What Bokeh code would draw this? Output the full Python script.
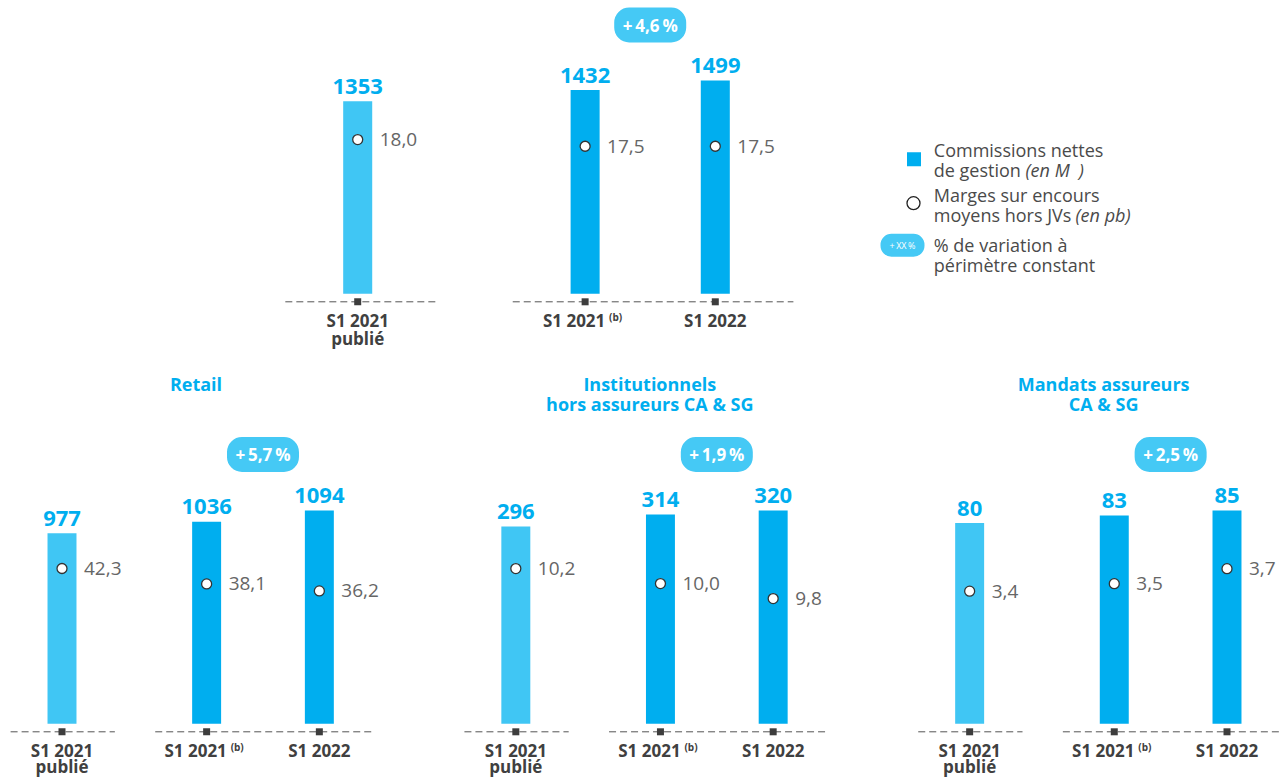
from bokeh.plotting import figure
from bokeh.models import FactorRange, Range1d, ColumnDataSource, Spacer
from bokeh.layouts import row, column
from bokeh.core.properties import value
from bokeh.embed import file_html
from bokeh.resources import INLINE

# ---------------- data ----------------
periods = ["S1 2021 publié", "S1 2021 (b)", "S1 2022"]
period_groups = ["publié", "périmètre constant", "périmètre constant"]
period_line1 = ["S1 2021", "S1 2021", "S1 2022"]
period_line2 = ["publié", "", ""]
period_note = ["", "(b)", ""]

total_commissions = [1353, 1432, 1499]
total_margins = [18.0, 17.5, 17.5]
total_growth = "+\u20094,6\u2009%"

segment_keys = ["Retail", "Institutionnels", "Mandats"]
segment_title1 = ["Retail", "Institutionnels", "Mandats assureurs"]
segment_title2 = ["", "hors assureurs CA & SG", "CA & SG"]

retail_commissions = [977, 1036, 1094]
retail_margins = [42.3, 38.1, 36.2]
inst_commissions = [296, 314, 320]
inst_margins = [10.2, 10.0, 9.8]
mandats_commissions = [80, 83, 85]
mandats_margins = [3.4, 3.5, 3.7]
segment_growth = ["+\u20095,7\u2009%", "+\u20091,9\u2009%", "+\u20092,5\u2009%"]

# ---------------- style ----------------
FONT = value("Open Sans")
BLUE = "#00AEEF"
LIGHT = "#40C6F4"
BADGE = "#45C9F5"
CAT_TXT = "#404040"
MARGIN_TXT = "#666666"
LEG_TXT = "#4A4A4A"
LINE = "#555555"
MAX_BAR_PX = 213.3


def fmt(v):
    return f"{v:.1f}".replace(".", ",")


def scale(zero_value, px_per_unit, base_px, height):
    return Range1d(zero_value - (height - base_px) / px_per_unit,
                   zero_value + base_px / px_per_unit)


def base_fig(w, h, x_range, y_range):
    p = figure(width=w, height=h, x_range=x_range, y_range=y_range,
               toolbar_location=None, output_backend="svg",
               x_axis_location=None, y_axis_location=None,
               min_border=0, outline_line_color=None,
               background_fill_color="white", border_fill_color="white")
    p.grid.visible = False
    return p


def draw_panel(p, factors, commissions, margins, growth, bars_name, marg_name,
               base_px, badge_px, dash_l, dash_r, bar_w, line2_gap=44.5):
    colors = [LIGHT if g == "publié" else BLUE for g in period_groups]
    src = ColumnDataSource(dict(
        x=factors, top=commissions, m=margins, color=colors,
        lab=[str(v) for v in commissions], mlab=[fmt(v) for v in margins],
        l1=period_line1, l2=period_line2, note=period_note,
        l1off=[-11 if n else 0 for n in period_note],
        y1=[base_px + 27] * 3, y2=[base_px + line2_gap] * 3, yn=[base_px + 23.5] * 3,
        ytick=[base_px + 8] * 3,
    ))
    # dashed baseline per group
    groups = []
    for g in period_groups:
        if g not in groups:
            groups.append(g)
    x0, x1 = [], []
    for g in groups:
        fs = [f for f, gg in zip(factors, period_groups) if gg == g]
        x0.append(tuple(fs[0]) + (dash_l,))
        x1.append(tuple(fs[-1]) + (dash_r,))
    p.segment(x0=x0, x1=x1, y0=[base_px + 8] * len(groups), y1=[base_px + 8] * len(groups),
              line_color=LINE, line_width=1, line_dash="7 4")
    p.scatter(x="x", y="ytick", source=src, marker="square", size=7,
              fill_color="#3D3D3D", line_color=None)
    p.vbar(x="x", top="top", bottom=0, width=bar_w, source=src, fill_color="color",
           line_color=None, y_range_name=bars_name)
    p.text(x="x", y="top", text="lab", source=src, y_range_name=bars_name, y_offset=-15,
           text_align="center", text_baseline="middle", text_font=FONT,
           text_font_style="bold", text_font_size="22px", text_color=BLUE)
    p.scatter(x="x", y="m", source=src, y_range_name=marg_name, marker="circle", size=10,
              fill_color="white", line_color="#333333", line_width=1.3)
    p.text(x="x", y="m", text="mlab", source=src, y_range_name=marg_name, x_offset=22,
           text_align="left", text_baseline="middle", text_font=FONT,
           text_font_size="19px", text_color=MARGIN_TXT)
    p.text(x="x", y="y1", text="l1", source=src, x_offset="l1off",
           text_align="center", text_baseline="middle", text_font=FONT,
           text_font_style="bold", text_font_size="17px", text_color=CAT_TXT)
    p.text(x="x", y="y2", text="l2", source=src,
           text_align="center", text_baseline="middle", text_font=FONT,
           text_font_style="bold", text_font_size="17px", text_color=CAT_TXT)
    p.text(x="x", y="yn", text="note", source=src, x_offset=24,
           text_align="left", text_baseline="middle", text_font=FONT,
           text_font_style="bold", text_font_size="10px", text_color=CAT_TXT)
    # growth badge between the two comparable periods
    bx = [tuple(factors[1]) + (0.5,)]
    p.rect(x=bx, y=[badge_px], width=72, height=35, width_units="screen",
           height_units="screen", fill_color=BADGE, line_color=None, border_radius=15)
    p.text(x=bx, y=[badge_px], text=[growth], text_align="center", text_baseline="middle",
           text_font=FONT, text_font_style="bold", text_font_size="17px", text_color="white")


# ---------------- top panel ----------------
TOP_W, TOP_H = 520, 365
top_base = 293.3
top_factors = [(g, pr) for g, pr in zip(period_groups, periods)]
top_x = FactorRange(factors=top_factors, factor_padding=0.0, group_padding=0.747,
                    range_padding=0.1238, range_padding_units="absolute")
top = base_fig(TOP_W, TOP_H, top_x, Range1d(TOP_H, 0))
top.extra_y_ranges = {
    "bars": scale(0, MAX_BAR_PX / max(total_commissions), top_base, TOP_H),
    "marg": scale(6.49, 13.4, top_base, TOP_H),
}
draw_panel(top, top_factors, total_commissions, total_margins, total_growth,
           "bars", "marg", top_base, 24.5, -0.556, 0.6, 0.223)

# ---------------- legend ----------------
LEG_W = 492
leg = base_fig(LEG_W, TOP_H, Range1d(0, LEG_W), Range1d(TOP_H, 0))
leg.scatter(x=[117.5], y=[158.8], marker="square", size=14, fill_color=BLUE, line_color=None)
leg.scatter(x=[117], y=[202.7], marker="circle", size=13, fill_color="white",
            line_color="#222222", line_width=1.3)
leg.rect(x=[106], y=[244.7], width=44, height=23, width_units="screen", height_units="screen",
         fill_color=BADGE, line_color=None, border_radius=11)
leg.text(x=[106], y=[244.7], text=["+\u2009XX\u2009%"], text_align="center",
         text_baseline="middle", text_font=FONT, text_font_size="9px", text_color="white")
leg_lines = ["Commissions nettes", "de gestion", "Marges sur encours", "moyens hors JVs",
             "% de variation à", "périmètre constant"]
leg_y = [149.5, 169.5, 194.5, 214.5, 244.5, 264.5]
leg.text(x=[137.3] * len(leg_lines), y=leg_y, text=leg_lines, text_align="left",
         text_baseline="middle", text_font=FONT, text_font_size="18px", text_color=LEG_TXT)
leg.text(x=[229, 279], y=[169.5, 214.5], text=["(en M\u2002)", "(en pb)"], text_align="left",
         text_baseline="middle", text_font=FONT, text_font_style="italic",
         text_font_size="18px", text_color=LEG_TXT)

# ---------------- bottom panels ----------------
BOT_W, BOT_H = 1288, 413
bot_base = 358.3
bot_factors = [(s, g, pr) for s in segment_keys for g, pr in zip(period_groups, periods)]
bot_x = FactorRange(factors=bot_factors, factor_padding=0.0, subgroup_padding=0.283,
                    group_padding=0.743, range_padding=0.0456, range_padding_units="absolute")
bot = base_fig(BOT_W, BOT_H, bot_x, Range1d(BOT_H, 0))
seg_comm = [retail_commissions, inst_commissions, mandats_commissions]
seg_marg = [retail_margins, inst_margins, mandats_margins]
marg_axes = [(0.0, 1 / 0.2724), (8.13, 75.0), (1.632, 75.0)]
for i, s in enumerate(segment_keys):
    bot.extra_y_ranges[f"bars{i}"] = scale(0, MAX_BAR_PX / max(seg_comm[i]), bot_base, BOT_H)
    bot.extra_y_ranges[f"marg{i}"] = scale(marg_axes[i][0], marg_axes[i][1], bot_base, BOT_H)
    facs = [f for f in bot_factors if f[0] == s]
    draw_panel(bot, facs, seg_comm[i], seg_marg[i], segment_growth[i],
               f"bars{i}", f"marg{i}", bot_base, 89, -0.456, 0.469, 0.257, line2_gap=42.5)

bot.text(x=segment_keys, y=[18.5] * 3, text=segment_title1, text_align="center",
         text_baseline="middle", text_font=FONT, text_font_style="bold",
         text_font_size="18px", text_color=BLUE)
bot.text(x=segment_keys, y=[38] * 3, text=segment_title2, text_align="center",
         text_baseline="middle", text_font=FONT, text_font_style="bold",
         text_font_size="18px", text_color=BLUE)

layout = column(
    row(Spacer(width=276, height=TOP_H), top, leg),
    bot,
)

open("out.html", "w").write(file_html(layout, INLINE))
